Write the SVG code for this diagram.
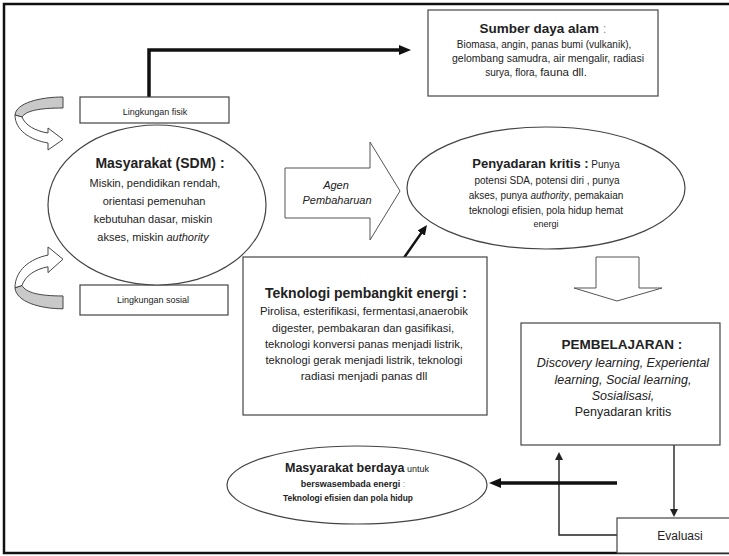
<svg xmlns="http://www.w3.org/2000/svg" width="729" height="556" viewBox="0 0 729 556">
<style>
text{font-family:"Liberation Sans",Arial,sans-serif;fill:#222;text-anchor:middle}
.box{fill:#fff;stroke:#444;stroke-width:1.2}
.ell{fill:#fff;stroke:#444;stroke-width:1.2}
.b{font-weight:bold}
.i{font-style:italic}
.g{fill:#999}
.thick{fill:none;stroke:#111;stroke-width:3.5}
.mid{fill:none;stroke:#111;stroke-width:2.5}
.thin{fill:none;stroke:#222;stroke-width:1.4}
.block{fill:#fff;stroke:#555;stroke-width:1}
.curlg{fill:#c9c9c9;stroke:#444;stroke-width:1}
.curlw{fill:#fff;stroke:#444;stroke-width:1}
</style>
<defs>
<marker id="ahT" viewBox="0 0 12 10" refX="4" refY="5" markerWidth="12" markerHeight="10" markerUnits="userSpaceOnUse" orient="auto"><path d="M0,0 L12,5 L0,10 Z" fill="#111"/></marker>
<marker id="ahM" viewBox="0 0 10 9" refX="4" refY="4.5" markerWidth="10" markerHeight="9" markerUnits="userSpaceOnUse" orient="auto"><path d="M0,0 L10,4.5 L0,9 Z" fill="#111"/></marker>
<marker id="ahS" viewBox="0 0 8 8" refX="3" refY="4" markerWidth="8" markerHeight="8" markerUnits="userSpaceOnUse" orient="auto"><path d="M0,0 L8,4 L0,8 Z" fill="#222"/></marker>
<g id="curl">
<path class="curlg" vector-effect="non-scaling-stroke" d="M63,97 C40,97 16,103 15,115 L22,117 C26,111 38,108 63,108 Z"/>
<path class="curlw" vector-effect="non-scaling-stroke" d="M15,115 C15,130 30,140 48,143 L48,150 L63,139.5 L48,128 L48,133 C35,131 25,125 22,117 Z"/>
</g>
</defs>

<rect id="frame" x="4" y="4" width="745" height="549" fill="#fff" stroke="#111" stroke-width="2.5"/>

<g id="curl-top"><use href="#curl"/></g>
<g id="curl-bottom"><use href="#curl" transform="matrix(1,0,0,-1.167,0,422)"/></g>

<g id="connectors">
<path class="thick" d="M149,97 V50 H403" marker-end="url(#ahT)"/>
<path class="mid" d="M401,262 L423.5,229.9" marker-end="url(#ahM)"/>
<path class="thin" d="M674,445 V512" marker-end="url(#ahS)"/>
<path class="thin" d="M617,535 H559 V457" marker-end="url(#ahS)"/>
<path class="thick" d="M617,483 H497" marker-end="url(#ahT)"/>
<path id="down-block" class="block" d="M596,257 H639 V288 H662 L617,301 L574,288 H596 Z"/>
</g>

<g id="sumber">
<rect class="box" x="428" y="10" width="230" height="86"/>
<text x="543" y="33" class="b" font-size="13.5">Sumber daya alam <tspan class="g" font-weight="normal">:</tspan></text>
<text x="544" y="48" font-size="10">Biomasa, angin, panas bumi (vulkanik),</text>
<text x="548" y="62" font-size="10" textLength="192" lengthAdjust="spacingAndGlyphs">gelombang samudra, air mengalir, radiasi</text>
<text x="536" y="76" font-size="10">surya, flora, <tspan font-size="11.5">fauna dll.</tspan></text>
</g>

<g id="ling-fisik">
<rect class="box" x="80" y="97" width="149" height="26"/>
<text x="155" y="115" font-size="9">Lingkungan fisik</text>
</g>

<g id="ling-sosial">
<rect class="box" x="80" y="285" width="148" height="30"/>
<text x="153" y="303" font-size="9">Lingkungan sosial</text>
</g>

<g id="masyarakat">
<ellipse class="ell" cx="157" cy="205" rx="109" ry="80"/>
<text x="160" y="168" class="b" font-size="14">Masyarakat (SDM) :</text>
<text x="155" y="187" font-size="11">Miskin, pendidikan rendah,</text>
<text x="154" y="205" font-size="11">orientasi pemenuhan</text>
<text x="153" y="223" font-size="11">kebutuhan dasar, miskin</text>
<text x="153" y="241" font-size="11">akses, miskin  <tspan class="i">authority</tspan></text>
</g>

<g id="agen">
<path class="block" d="M285,168 H370 V142 L400,191 L370,240 V218 H285 Z"/>
<text x="336" y="189" class="i" font-size="11">Agen</text>
<text x="337" y="204" class="i" font-size="11">Pembaharuan</text>
</g>

<g id="penyadaran">
<ellipse class="ell" cx="546" cy="188" rx="139" ry="61"/>
<text x="546" y="168"><tspan class="b" font-size="13">Penyadaran kritis :</tspan><tspan font-size="10"> Punya</tspan></text>
<text x="547" y="184" font-size="10">potensi SDA, potensi diri , punya</text>
<text x="546" y="199" font-size="10">akses, punya <tspan class="i">authority</tspan>, pemakaian</text>
<text x="546" y="214" font-size="10">teknologi  efisien, pola hidup hemat</text>
<text x="546" y="227" font-size="9">energi</text>
</g>

<g id="teknologi">
<rect class="box" x="243" y="257" width="244" height="158"/>
<text x="366" y="298" class="b" font-size="14">Teknologi pembangkit  energi :</text>
<text x="364" y="315" font-size="11.5" textLength="208" lengthAdjust="spacingAndGlyphs">Pirolisa, esterifikasi, fermentasi,anaerobik</text>
<text x="363" y="332" font-size="11.5" textLength="182" lengthAdjust="spacingAndGlyphs">digester, pembakaran dan gasifikasi,</text>
<text x="364" y="348" font-size="11.5" textLength="198" lengthAdjust="spacingAndGlyphs">teknologi konversi panas menjadi listrik,</text>
<text x="364" y="364" font-size="11.5" textLength="197" lengthAdjust="spacingAndGlyphs">teknologi gerak menjadi listrik, teknologi</text>
<text x="364" y="380" font-size="11.5">radiasi menjadi panas dll</text>
</g>

<g id="pembelajaran">
<rect class="box" x="521" y="323" width="199" height="122"/>
<text x="622" y="349" class="b" font-size="13.5">PEMBELAJARAN :</text>
<text x="623" y="367" class="i" font-size="12.5">Discovery learning, Experiental</text>
<text x="623" y="384" class="i" font-size="12.5">learning, Social learning,</text>
<text x="623" y="400" class="i" font-size="12.5">Sosialisasi,</text>
<text x="623" y="416" font-size="12.5">Penyadaran kritis</text>
</g>

<g id="berdaya">
<ellipse class="ell" cx="357" cy="485" rx="130" ry="39"/>
<text x="357" y="472"><tspan class="b" font-size="12.5">Masyarakat berdaya</tspan><tspan font-size="9"> untuk</tspan></text>
<text x="353" y="487" class="b" font-size="9" fill="#333">berswasembada energi <tspan class="g" font-weight="normal">:</tspan></text>
<text x="348" y="501" class="b" font-size="9.5" textLength="130" lengthAdjust="spacingAndGlyphs">Teknologi efisien dan pola hidup</text>
</g>

<g id="evaluasi">
<rect class="box" x="617" y="518" width="130" height="35"/>
<text x="680" y="540" font-size="12">Evaluasi</text>
</g>
</svg>
